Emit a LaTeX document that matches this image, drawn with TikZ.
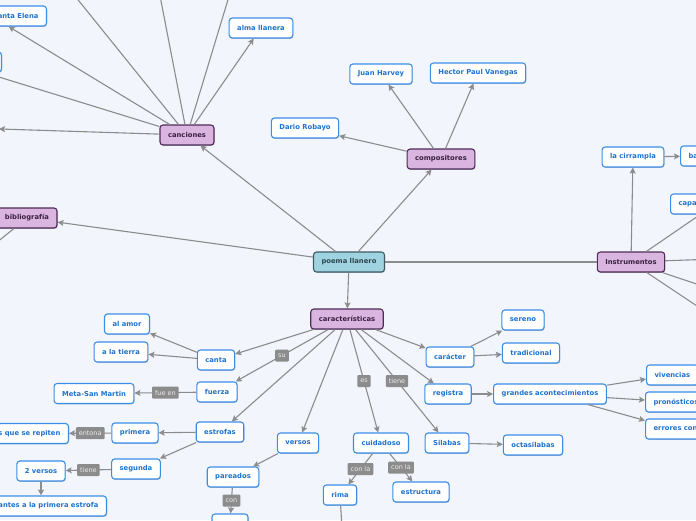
\documentclass[tikz,border=0pt]{standalone}
\usepackage{fontspec}
\setmainfont{DejaVu Sans}
\usetikzlibrary{arrows.meta,shadows,calc}
\definecolor{bgc}{HTML}{F3F5FD}
\definecolor{leafb}{HTML}{3A8EE6}
\definecolor{leaft}{HTML}{1F72CF}
\definecolor{lilf}{HTML}{D9B5E0}
\definecolor{lilb}{HTML}{4E2C56}
\definecolor{lilt}{HTML}{3A2141}
\definecolor{rootf}{HTML}{9FD3DF}
\definecolor{rootb}{HTML}{3E5A66}
\definecolor{roott}{HTML}{2C4752}
\definecolor{edgec}{HTML}{8C8C8C}
\definecolor{lblf}{HTML}{8C8C8C}
\definecolor{lblt}{HTML}{EDEDED}
\tikzset{
 box/.style={rounded corners=3pt, minimum height=20pt, inner xsep=8pt, inner ysep=0pt, line width=1.1pt,
   font=\fontsize{6.8}{8}\selectfont\bfseries,
   drop shadow={shadow xshift=0.6pt, shadow yshift=-0.9pt, opacity=0.22, fill=black}},
 leaf/.style={box, draw=leafb, fill=white, text=leaft},
 topic/.style={box, draw=lilb, fill=lilf, text=lilt},
 root/.style={box, draw=rootb, fill=rootf, text=roott},
 edge/.style={draw=edgec, line width=1.1pt},
 arr/.style={edge, -{Stealth[length=6pt,width=6pt,inset=1.2pt]}},
 lbl/.style={fill=lblf, text=lblt, font=\fontsize{6.5}{8}\selectfont, inner xsep=3pt, inner ysep=0pt,
   minimum height=12pt, rounded corners=1pt},
}
\begin{document}
\begin{tikzpicture}[x=1pt,y=-1pt]
\useasboundingbox (0,0) rectangle (696,520);
\fill[bgc] (0,0) rectangle (696,520);
\clip (0,0) rectangle (696,520);

% main topics
\node[root] (poema) at (349,262) {poema llanero};
\node[topic] (car) at (347,319) {características};
\node[topic] (comp) at (441,159) {compositores};
\node[topic] (canc) at (187,135) {canciones};
\node[topic] (bib) at (27,218) {bibliografía};
\node[topic] (inst) at (631,262) {Instrumentos};

% compositores
\node[leaf] (dario) at (305,128) {Dario Robayo};
\node[leaf] (juan) at (381,74) {Juan Harvey};
\node[leaf] (hector) at (478,73) {Hector Paul Vanegas};

% canciones
\node[leaf] (alma) at (261,28) {alma llanera};
\node[leaf, anchor=east] (se) at (47,16) {Santa Elena};
\node[leaf, anchor=east, minimum width=60pt] (unka) at (2,62) {};
\node[leaf, anchor=east, minimum width=60pt] (unkb) at (-1,128) {};
\coordinate (ta) at (54,-30);
\coordinate (tb) at (155,-30);
\coordinate (tc) at (237,-30);
\coordinate (la) at (-40,65);
\coordinate (ba) at (-40,272);

% instrumentos
\node[leaf] (cirr) at (633,157) {la cirrampla};
\node[leaf, anchor=west] (band) at (680,156) {bandola};
\node[leaf, anchor=west, text width=74pt, align=left] (capa) at (670,204) {capachos};
\coordinate (ra) at (800,256);
\coordinate (rb) at (780,312);
\coordinate (rc) at (760,348);

% caracteristicas
\node[leaf] (canta) at (216,360) {canta};
\node[leaf] (fuerza) at (217,392) {fuerza};
\node[leaf] (estrofas) at (220,432) {estrofas};
\node[leaf] (versos) at (298,443) {versos};
\node[leaf] (cuid) at (381,443) {cuidadoso};
\node[leaf] (silabas) at (447,443) {Silabas};
\node[leaf] (registra) at (448,394) {registra};
\node[leaf] (caracter) at (450,357) {carácter};
\node[leaf] (sereno) at (523,320) {sereno};
\node[leaf] (trad) at (531,353) {tradicional};
\node[leaf] (grandes) at (550,394) {grandes acontecimientos};
\node[leaf, anchor=west] (viv) at (646,375) {vivencias};
\node[leaf, anchor=west] (pron) at (645,402) {pronósticos};
\node[leaf, anchor=west] (err) at (645,429) {errores con};
\node[leaf] (octa) at (533,445) {octasilabas};
\node[leaf] (rima) at (340,495) {rima};
\node[leaf] (estruc) at (421,492) {estructura};
\coordinate (rd) at (343,545);
\node[leaf] (pareados) at (233,477) {pareados};
\node[leaf, minimum width=36pt] (parcon) at (230,524) {};
\node[leaf] (primera) at (135,433) {primera};
\node[leaf, anchor=east] (repiten) at (69,433.5) {versos que se repiten};
\node[leaf] (segunda) at (136,469) {segunda};
\node[leaf] (dosv) at (41,471) {2 versos};
\node[leaf, anchor=east] (sem) at (107,506) {semejantes a la primera estrofa};
\node[leaf] (alamor) at (127,324) {al amor};
\node[leaf] (tierra) at (121,352) {a la tierra};
\node[leaf] (meta) at (94,393.5) {Meta-San Martin};

% connectors
\draw[arr] (poema) -- (canc);
\draw[arr] (poema) -- (comp);
\draw[arr] (poema) -- (bib);
\draw[edge] (poema) -- (inst);
\draw[arr] (poema) -- (car);

\draw[arr] (comp) -- (dario);
\draw[arr] (comp) -- (juan);
\draw[arr] (comp) -- (hector);

\draw[arr] (canc) -- (alma);
\draw[arr] (canc) -- ($(se.south)+(-7,0)$);
\draw[arr] (canc) -- (ta);
\draw[arr] (canc) -- (tb);
\draw[arr] (canc) -- (tc);
\draw[arr] (canc) -- (la);
\draw[arr] (canc) -- (unkb);
\draw[edge] (bib) -- (ba);

\draw[arr] (inst) -- (cirr);
\draw[arr] (cirr) -- (band);
\draw[edge] (inst) -- (capa);
\draw[edge] (inst) -- (ra);
\draw[edge] (inst) -- (rb);
\draw[edge] (inst) -- (rc);

\draw[arr] (car) -- (canta);
\draw[arr] (car) -- node[lbl]{su} (fuerza);
\draw[arr] (car) -- (estrofas);
\draw[arr] (car) -- (versos);
\draw[arr] (car) -- node[lbl]{es} (cuid);
\draw[arr] (car) -- node[lbl]{tiene} (silabas);
\draw[arr] (car) -- (registra);
\draw[arr] (car) -- (caracter);

\draw[arr] (caracter) -- (sereno);
\draw[arr] (caracter) -- (trad);
\draw[arr] (registra) -- (grandes);
\draw[arr] (grandes) -- (viv);
\draw[arr] (grandes) -- (pron);
\draw[arr] (grandes) -- (err);
\draw[arr] (silabas) -- (octa);
\draw[arr] (cuid) -- node[lbl]{con la} (rima);
\draw[arr] (cuid) -- node[lbl]{con la} (estruc);
\draw[edge] (rima) -- (rd);
\draw[arr] (versos) -- (pareados);
\draw[arr] (pareados) -- node[lbl]{con} (parcon);

\draw[arr] (estrofas) -- (primera);
\draw[arr] (estrofas) -- (segunda);
\draw[arr] (primera) -- node[lbl]{entona} (repiten);
\draw[arr] (segunda) -- node[lbl]{tiene} (dosv);
\draw[arr] (dosv) -- (dosv |- sem.north);
\draw[arr] (canta) -- (alamor);
\draw[arr] (canta) -- (tierra);
\draw[arr] (fuerza) -- node[lbl]{fue en} (meta);
\end{tikzpicture}
\end{document}
